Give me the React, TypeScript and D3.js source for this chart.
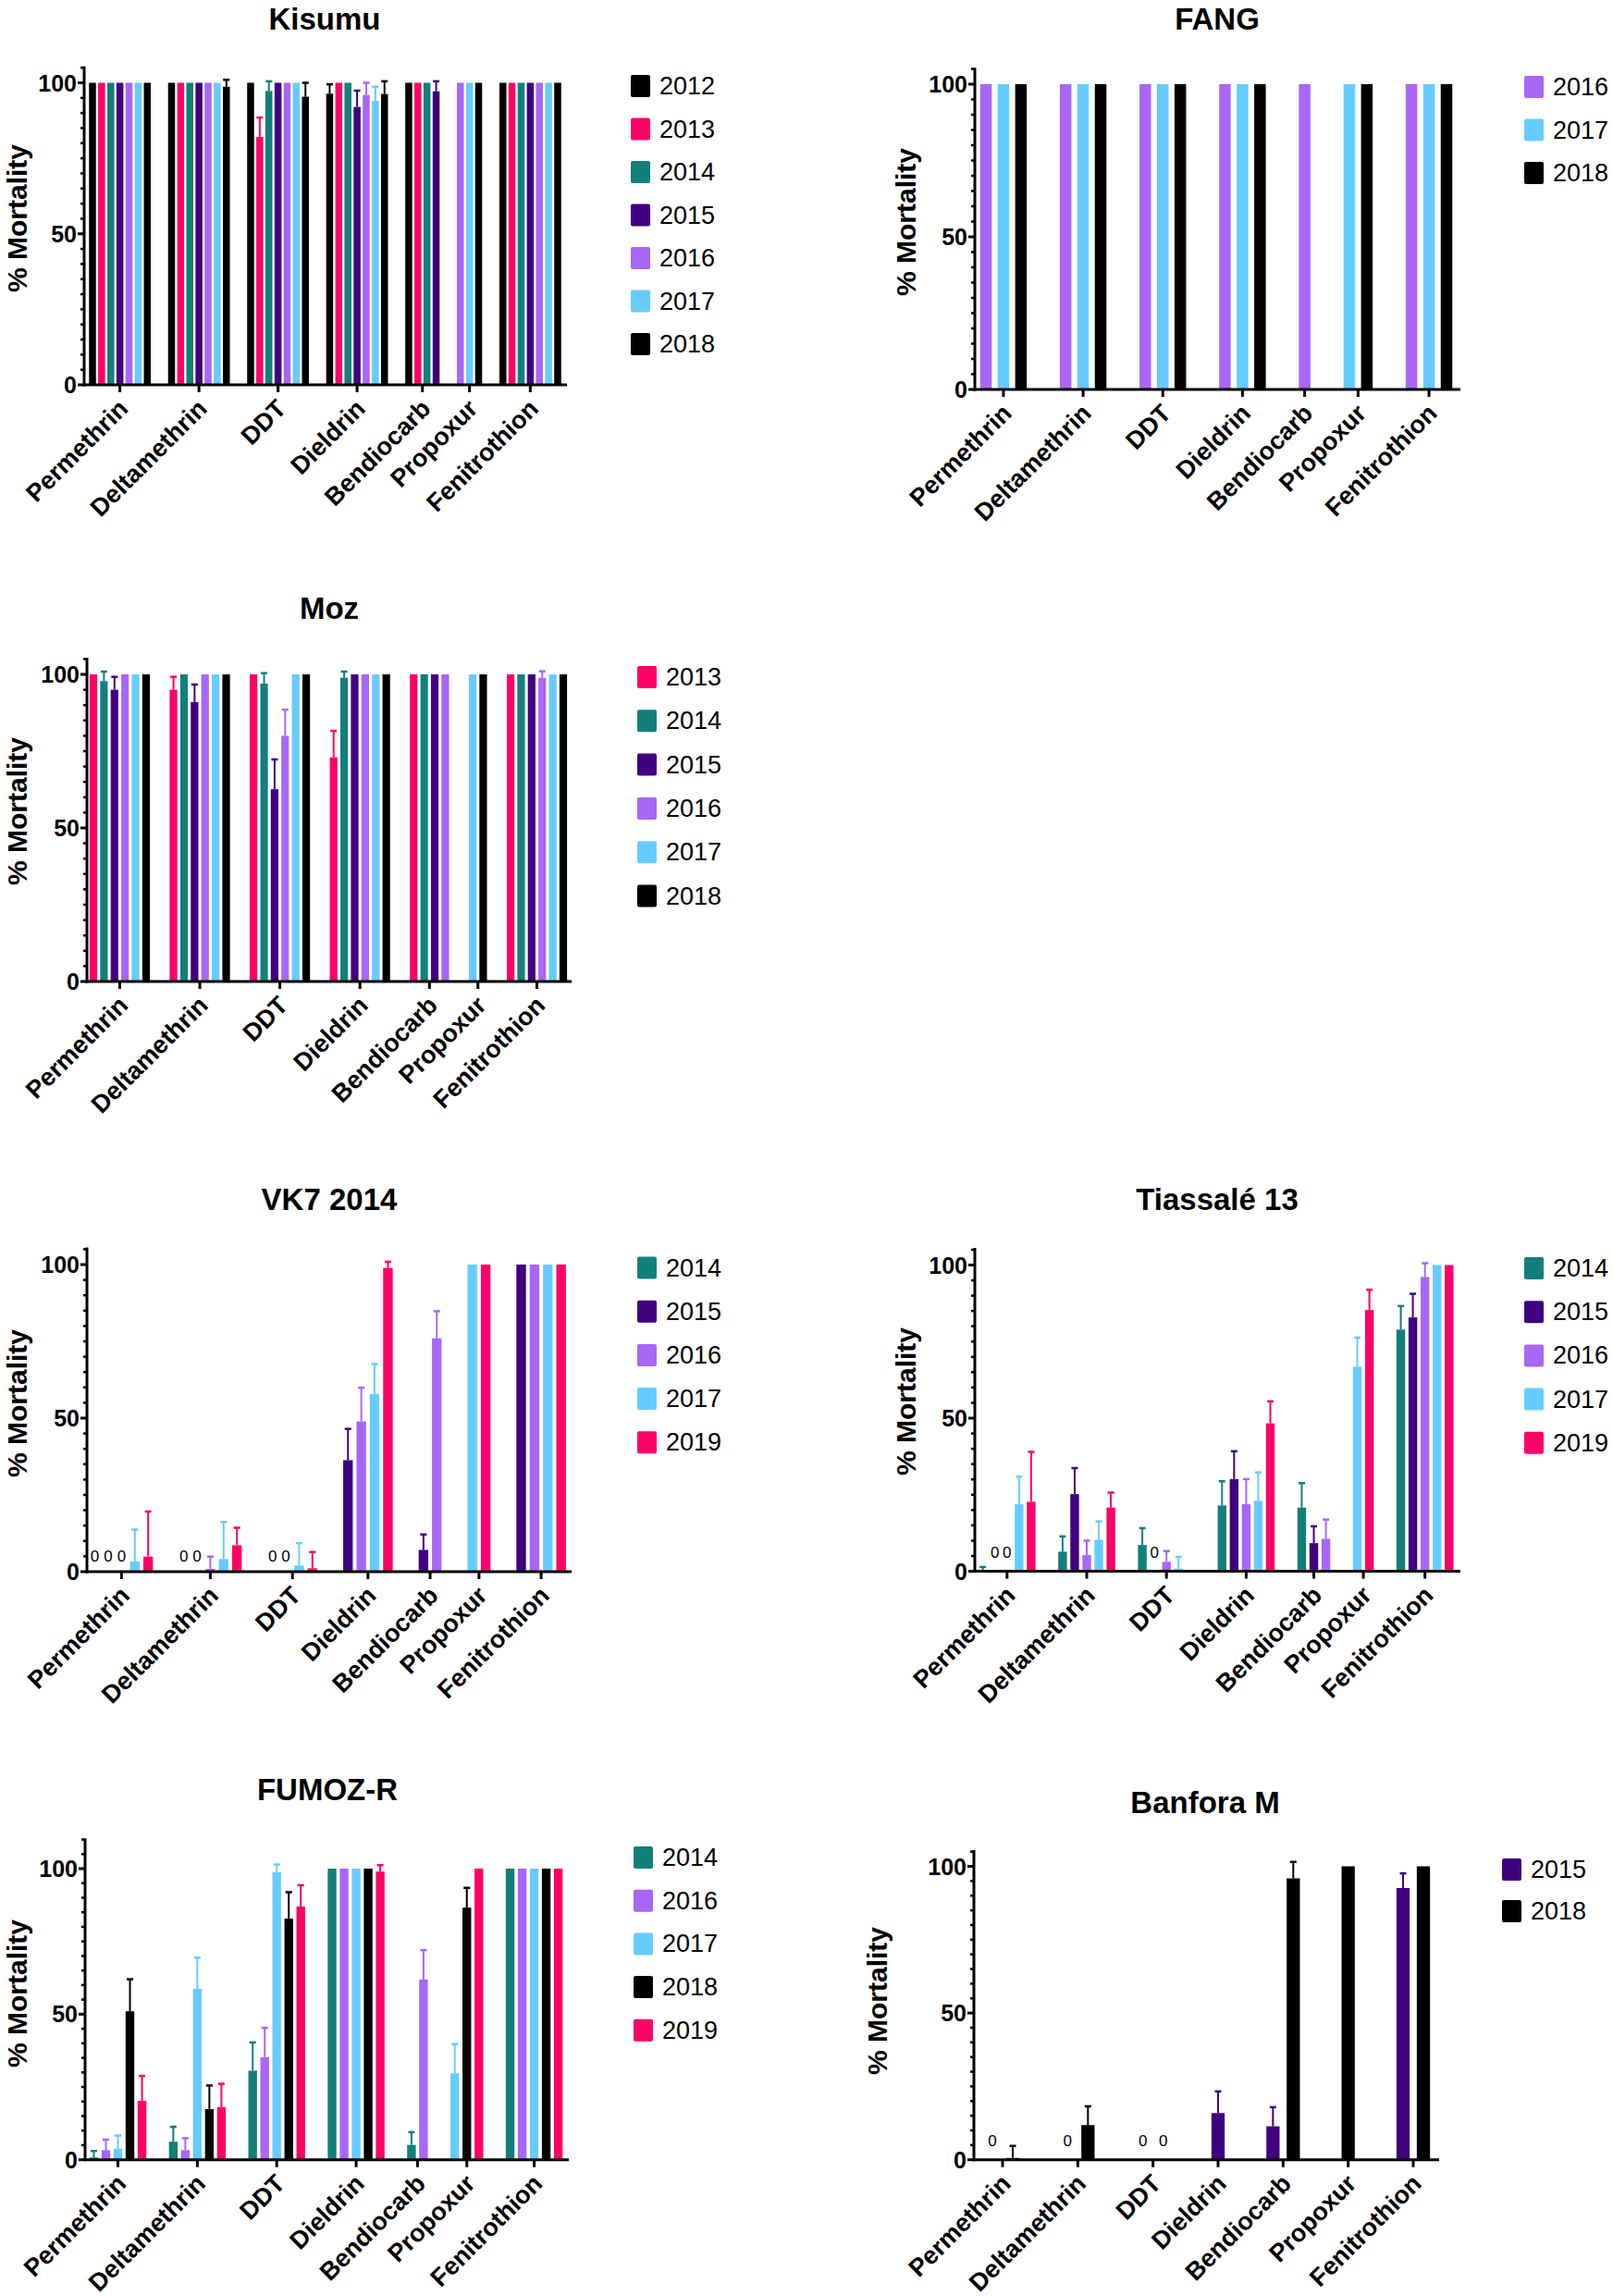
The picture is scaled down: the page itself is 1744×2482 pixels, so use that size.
import React from "react";
import * as d3 from "d3";

// ---------- shared data ----------
const CATEGORIES = ["Permethrin", "Deltamethrin", "DDT", "Dieldrin", "Bendiocarb", "Propoxur", "Fenitrothion"];
const Y_TICKS = [0, 50, 100];
const YEAR_COLORS: Record<string, string> = {
  "2012": "#000000",
  "2013": "#FF0066",
  "2014": "#127F7B",
  "2015": "#40007F",
  "2016": "#A966F7",
  "2017": "#66CCFF",
  "2018": "#000000",
  "2019": "#FF0066",
};

type Row = (number | null)[];

// ---------- Kisumu ----------
const KISUMU_YEARS = ["2012", "2013", "2014", "2015", "2016", "2017", "2018"];
const KISUMU_MEAN: Row[] = [
  [100, 100, 100, 100, 100, 100, 100],
  [100, 100, 100, 100, 100, 100, 98.7],
  [100, 82.1, 97.3, 100, 100, 100, 95.4],
  [96.4, 100, 100, 92, 96, 94, 96.3],
  [100, 100, 100, 97.2, null, null, null],
  [null, null, null, null, 100, 100, 100],
  [100, 100, 100, 100, 100, 100, 100],
];
const KISUMU_SD: Row[] = [
  [null, null, null, null, null, null, null],
  [null, null, null, null, null, null, 2.3],
  [null, 6.4, 3.2, null, null, null, 4.6],
  [3.1, null, null, 5.4, 4, 4.7, 4.2],
  [null, null, null, 3.3, null, null, null],
  [null, null, null, null, null, null, null],
  [null, null, null, null, null, null, null],
];

// ---------- FANG ----------
const FANG_YEARS = ["2016", "2017", "2018"];
const FANG_MEAN: Row[] = [
  [100, 100, 100],
  [100, 100, 100],
  [100, 100, 100],
  [100, 100, 100],
  [100, null, null],
  [null, 100, 100],
  [100, 100, 100],
];
const FANG_SD: Row[] = [
  [null, null, null], [null, null, null], [null, null, null], [null, null, null],
  [null, null, null], [null, null, null], [null, null, null],
];

// ---------- Moz ----------
const MOZ_YEARS = ["2013", "2014", "2015", "2016", "2017", "2018"];
const MOZ_MEAN: Row[] = [
  [100, 97.8, 95, 100, 100, 100],
  [95, 100, 91, 100, 100, 100],
  [100, 97, 62.6, 80, 100, 100],
  [73, 98.9, 100, 100, 100, 100],
  [100, 100, 100, 100, null, null],
  [null, null, null, null, 100, 100],
  [100, 100, 100, 98.9, 100, 100],
];
const MOZ_SD: Row[] = [
  [null, 3.1, 4.2, null, null, null],
  [4.2, null, 5.7, null, null, null],
  [null, 3.4, 9.7, 8.5, null, null],
  [8.6, 2, null, null, null, null],
  [null, null, null, null, null, null],
  [null, null, null, null, null, null],
  [null, null, null, 2.1, null, null],
];

// ---------- VK7 2014 ----------
const VK7_YEARS = ["2014", "2015", "2016", "2017", "2019"];
const VK7_MEAN: Row[] = [
  [0, 0, 0, 3.3, 4.9],
  [0, 0, 0.9, 4.1, 8.6],
  [0, 0, null, 2, 1.1],
  [null, 36.3, 48.9, 57.9, 98.9],
  [null, 7.1, 76, null, null],
  [null, null, null, 100, 100],
  [null, 100, 100, 100, 100],
];
const VK7_SD: Row[] = [
  [null, null, null, 10.4, 14.7],
  [null, null, 4, 12.1, 5.7],
  [null, null, null, 7.3, 5.3],
  [null, 10.2, 11, 9.7, 2],
  [null, 5, 8.8, null, null],
  [null, null, null, null, null],
  [null, null, null, null, null],
];

// ---------- Tiassalé 13 ----------
const TIA_YEARS = ["2014", "2015", "2016", "2017", "2019"];
const TIA_MEAN: Row[] = [
  [0.4, 0, 0, 21.9, 22.7],
  [6.4, 25.2, 5.3, 10.3, 20.8],
  [8.6, 0, 3.1, 0.9, 0.3],
  [21.5, 30.1, 21.9, 23, 48.3],
  [20.8, 9.2, 10.6, null, null],
  [null, null, null, 66.8, 85.3],
  [78.9, 82.9, 96.1, 100, 100],
];
const TIA_SD: Row[] = [
  [1.0, null, null, 9, 16.3],
  [5, 8.5, 4.7, 6, 4.9],
  [5.5, null, 3.5, 3.8, null],
  [7.9, 9.1, 8.2, 9.3, 7.2],
  [8, 5.5, 6.3, null, null],
  [null, null, null, 9.5, 6.6],
  [7.7, 7.7, 4.5, null, null],
];

// ---------- FUMOZ-R ----------
const FUMOZ_YEARS = ["2014", "2016", "2017", "2018", "2019"];
const FUMOZ_MEAN: Row[] = [
  [0.8, 3.3, 3.8, 51, 20.2],
  [6.2, 3.3, 58.7, 17.4, 18.1],
  [30.6, 35.2, 98.8, 82.8, 87],
  [100, 100, 100, 100, 99],
  [5.1, 61.9, null, null, null],
  [null, null, 29.7, 86.6, 100],
  [100, 100, 100, 100, 100],
];
const FUMOZ_SD: Row[] = [
  [2.2, 3.6, 4.5, 11, 8.6],
  [5.1, 4.1, 10.7, 8.1, 8],
  [9.7, 10.1, 2.6, 9.1, 7.3],
  [null, null, null, null, 2.2],
  [4.4, 10.1, null, null, null],
  [null, null, 10, 6.8, null],
  [null, null, null, null, null],
];

// ---------- Banfora M ----------
const BANFORA_YEARS = ["2015", "2018"];
const BANFORA_MEAN: Row[] = [
  [0, 0.6],
  [0, 11.8],
  [0, 0],
  [15.9, null],
  [11.4, 95.9],
  [null, 100],
  [92.6, 100],
];
const BANFORA_SD: Row[] = [
  [null, 4.1],
  [null, 6.4],
  [null, null],
  [7.4, null],
  [6.5, 5.6],
  [null, null],
  [5, null],
];

// ---------- layout ----------
type PanelCfg = {
  title: string;
  years: string[];
  mean: Row[];
  sd: Row[];
  titleX: number;
  titleY: number;
  axisX: number;
  axisEnd: number;
  y0: number;
  y100: number;
  yMax: number;
  firstX: number;
  lastX: number;
  gapExtra: number;
  barRatio: number;
  legendSqX: number;
  legendTextX: number;
  legendY0: number;
  legendStep: number;
  yLabelX: number;
  yLabelY: number;
  zeroOffset: number;
};

const PANELS: PanelCfg[] = [
  {
    title: "Kisumu", years: KISUMU_YEARS, mean: KISUMU_MEAN, sd: KISUMU_SD,
    titleX: 351, titleY: 20, axisX: 91, axisEnd: 613, y0: 416, y100: 89.5, yMax: 105.4,
    firstX: 100, lastX: 603, gapExtra: 1.65, barRatio: 0.76,
    legendSqX: 682, legendTextX: 713, legendY0: 93, legendStep: 46.5,
    yLabelX: 18, yLabelY: 236, zeroOffset: 14,
  },
  {
    title: "FANG", years: FANG_YEARS, mean: FANG_MEAN, sd: FANG_SD,
    titleX: 1316, titleY: 20, axisX: 1054, axisEnd: 1579, y0: 421, y100: 91, yMax: 105.4,
    firstX: 1066, lastX: 1564, gapExtra: 1.55, barRatio: 0.66,
    legendSqX: 1648, legendTextX: 1679, legendY0: 94, legendStep: 46.5,
    yLabelX: 979, yLabelY: 240, zeroOffset: 14,
  },
  {
    title: "Moz", years: MOZ_YEARS, mean: MOZ_MEAN, sd: MOZ_SD,
    titleX: 356, titleY: 657, axisX: 94, axisEnd: 618, y0: 1061, y100: 729, yMax: 105.4,
    firstX: 101, lastX: 609, gapExtra: 1.6, barRatio: 0.72,
    legendSqX: 689, legendTextX: 720, legendY0: 732, legendStep: 47.3,
    yLabelX: 18, yLabelY: 877, zeroOffset: 14,
  },
  {
    title: "VK7 2014", years: VK7_YEARS, mean: VK7_MEAN, sd: VK7_SD,
    titleX: 356, titleY: 1296, axisX: 94, axisEnd: 618, y0: 1699, y100: 1367, yMax: 105.6,
    firstX: 102.6, lastX: 606.7, gapExtra: 1.67, barRatio: 0.72,
    legendSqX: 689, legendTextX: 720, legendY0: 1370.5, legendStep: 47.2,
    yLabelX: 18, yLabelY: 1517, zeroOffset: 11,
  },
  {
    title: "Tiassalé 13", years: TIA_YEARS, mean: TIA_MEAN, sd: TIA_SD,
    titleX: 1316, titleY: 1296, axisX: 1054, axisEnd: 1579, y0: 1698.6, y100: 1367.5, yMax: 105.6,
    firstX: 1062.7, lastX: 1566.8, gapExtra: 1.6, barRatio: 0.72,
    legendSqX: 1648, legendTextX: 1679, legendY0: 1371, legendStep: 47.2,
    yLabelX: 979, yLabelY: 1515, zeroOffset: 15,
  },
  {
    title: "FUMOZ-R", years: FUMOZ_YEARS, mean: FUMOZ_MEAN, sd: FUMOZ_SD,
    titleX: 354, titleY: 1934, axisX: 92, axisEnd: 615, y0: 2334.7, y100: 2020, yMax: 110.3,
    firstX: 101.5, lastX: 603.6, gapExtra: 1.6, barRatio: 0.72,
    legendSqX: 685, legendTextX: 716, legendY0: 2008, legendStep: 46.7,
    yLabelX: 18, yLabelY: 2155, zeroOffset: 14,
  },
  {
    title: "Banfora M", years: BANFORA_YEARS, mean: BANFORA_MEAN, sd: BANFORA_SD,
    titleX: 1303, titleY: 1948, axisX: 1053, axisEnd: 1556, y0: 2334.7, y100: 2017.5, yMax: 105.5,
    firstX: 1073, lastX: 1539, gapExtra: 1.7, barRatio: 0.65,
    legendSqX: 1624, legendTextX: 1655, legendY0: 2021, legendStep: 45,
    yLabelX: 948, yLabelY: 2163, zeroOffset: 15,
  },
];

const FONT = "'Liberation Sans', Arial, Helvetica, sans-serif";

function Panel({ cfg }: { cfg: PanelCfg }) {
  // sequential slot positions: only present bars get a slot
  const bars: { slot: number; year: string; v: number; sd: number | null }[] = [];
  const centers: number[] = [];
  let pos = -1;
  CATEGORIES.forEach((_, gi) => {
    const present = cfg.years
      .map((year, si) => ({ year, v: cfg.mean[gi][si], sd: cfg.sd[gi][si] }))
      .filter((d) => d.v !== null) as { year: string; v: number; sd: number | null }[];
    const start = gi === 0 ? 0 : pos + 1 + cfg.gapExtra;
    present.forEach((d, k) => bars.push({ slot: start + k, ...d }));
    const last = start + present.length - 1;
    centers.push((start + last) / 2);
    pos = last;
  });
  const x = d3.scaleLinear().domain([0, pos]).range([cfg.firstX, cfg.lastX]);
  const pitch = x(1) - x(0);
  const bw = pitch * cfg.barRatio;
  const y = d3.scaleLinear().domain([0, 100]).range([cfg.y0, cfg.y100]);
  const minor = d3.range(5, cfg.yMax, 5).filter((t) => t % 50 !== 0);

  return (
    <g fontFamily={FONT}>
      <text x={cfg.titleX} y={cfg.titleY} textAnchor="middle" dominantBaseline="central"
        fontSize={33} fontWeight="bold">{cfg.title}</text>

      <text transform={`translate(${cfg.yLabelX},${cfg.yLabelY}) rotate(-90)`} textAnchor="middle"
        dominantBaseline="central" fontSize={30} fontWeight="bold">% Mortality</text>

      {/* bars */}
      {bars.map((b, i) =>
        b.v > 0 ? (
          <rect key={"b" + i} x={x(b.slot) - bw / 2} y={y(b.v)} width={bw} height={y(0) - y(b.v)}
            fill={YEAR_COLORS[b.year]} />
        ) : (
          <text key={"z" + i} x={x(b.slot)} y={cfg.y0 - cfg.zeroOffset} textAnchor="middle"
            fontSize={17} fill="#000">0</text>
        )
      )}
      {/* error bars (upper only) */}
      {bars.filter((b) => b.sd !== null && b.v > 0).map((b, i) => (
        <g key={"e" + i} stroke={YEAR_COLORS[b.year]} strokeWidth={2}>
          <line x1={x(b.slot)} x2={x(b.slot)} y1={y(b.v)} y2={y(b.v + (b.sd as number))} />
          <line x1={x(b.slot) - 3.5} x2={x(b.slot) + 3.5} y1={y(b.v + (b.sd as number))}
            y2={y(b.v + (b.sd as number))} strokeWidth={2.5} />
        </g>
      ))}

      {/* y axis */}
      <line x1={cfg.axisX} x2={cfg.axisX} y1={y(cfg.yMax)} y2={cfg.y0 + 1.5} stroke="#000" strokeWidth={3} />
      {Y_TICKS.map((t) => (
        <g key={"yt" + t}>
          <line x1={cfg.axisX - 7} x2={cfg.axisX} y1={y(t)} y2={y(t)} stroke="#000" strokeWidth={3} />
          <text x={cfg.axisX - 8} y={y(t)} textAnchor="end" dominantBaseline="central"
            fontSize={25} fontWeight="bold">{t}</text>
        </g>
      ))}
      {minor.map((t) => (
        <line key={"mt" + t} x1={cfg.axisX - 4} x2={cfg.axisX} y1={y(t)} y2={y(t)} stroke="#000" strokeWidth={2.5} />
      ))}
      {/* x axis */}
      <line x1={cfg.axisX - 1.5} x2={cfg.axisEnd} y1={cfg.y0} y2={cfg.y0} stroke="#000" strokeWidth={3} />
      {centers.map((c, gi) => (
        <g key={"xt" + gi}>
          <line x1={x(c)} x2={x(c)} y1={cfg.y0} y2={cfg.y0 + 8} stroke="#000" strokeWidth={3} />
          <text transform={`translate(${x(c) + 4},${cfg.y0 + 21}) rotate(-45)`} textAnchor="end"
            dominantBaseline="central" fontSize={27} fontWeight="bold">{CATEGORIES[gi]}</text>
        </g>
      ))}

      {/* legend */}
      {cfg.years.map((yr, i) => (
        <g key={"lg" + yr}>
          <rect x={cfg.legendSqX} y={cfg.legendY0 + i * cfg.legendStep - 12} width={21} height={24} rx={2}
            fill={YEAR_COLORS[yr]} />
          <text x={cfg.legendTextX} y={cfg.legendY0 + i * cfg.legendStep} dominantBaseline="central"
            fontSize={27}>{yr}</text>
        </g>
      ))}
    </g>
  );
}

export default function App() {
  return (
    <svg width={1744} height={2482} viewBox="0 0 1744 2482"
      style={{ position: "absolute", left: 0, top: 0, background: "#fff" }}>
      <rect x={0} y={0} width={1744} height={2482} fill="#fff" />
      {PANELS.map((p) => (
        <Panel key={p.title} cfg={p} />
      ))}
    </svg>
  );
}
